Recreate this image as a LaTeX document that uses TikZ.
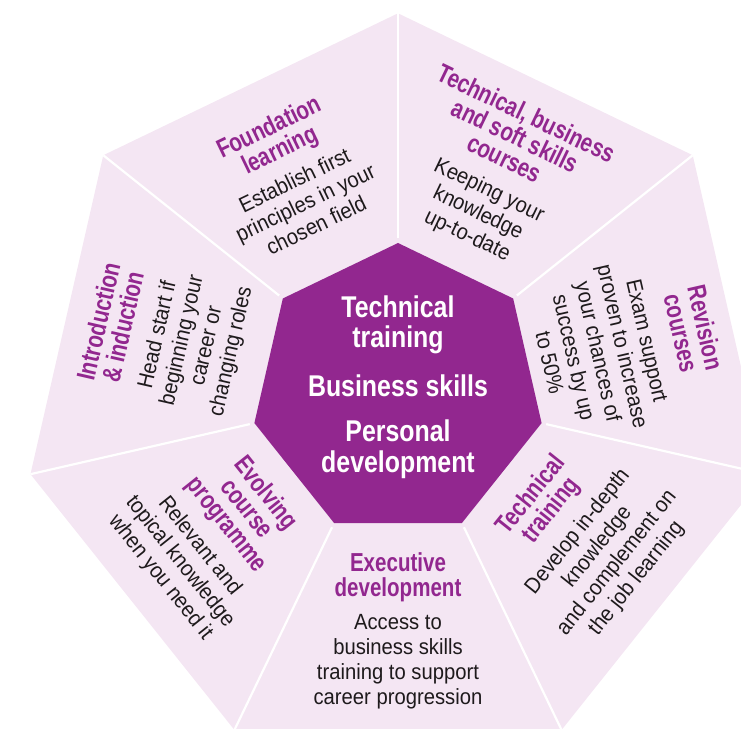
\documentclass[tikz,border=0pt]{standalone}
\usepackage{fontspec}
\setmainfont{Liberation Sans}
\newfontfamily\ctrfont{Liberation Sans}[FakeStretch=0.83]
\newfontfamily\ttlfont{Liberation Sans}[FakeStretch=0.79]
\newfontfamily\dscfont{Liberation Sans}[FakeStretch=0.92]
\definecolor{pinkbg}{RGB}{244,230,243}
\definecolor{plum}{RGB}{146,39,143}
\definecolor{ink}{RGB}{30,26,28}
\newcommand\segtitle[1]{{\ttlfont\bfseries\fontsize{26}{25}\selectfont\color{plum}#1}}
\begin{document}
\begin{tikzpicture}[x=1pt,y=1pt,
  sep/.style={draw=white, line width=2.2pt},
  blk/.style={align=center, inner sep=0pt, text=ink, font=\dscfont\fontsize{22}{25}\selectfont},
  ctr/.style={align=center, inner sep=0pt, text=white, font=\ctrfont\bfseries\fontsize{30}{30.5}\selectfont}]
\useasboundingbox (-398,-337.7) rectangle (343,390.3);
\clip (-398,-337.7) rectangle (343,390.3);
\foreach \k in {0,...,6}{
  \coordinate (o\k) at ({90+\k*360/7}:377);
  \coordinate (i\k) at ({90+\k*360/7}:147.3);
  \coordinate (s\k) at ({90+\k*360/7}:152);
}
\fill[pinkbg] (o0) -- (o1) -- (o2) -- (o3) -- (o4) -- (o5) -- (o6) -- cycle;
\foreach \k in {0,...,6}{ \draw[sep] (s\k) -- (o\k); }
\fill[plum] (i0) -- (i1) -- (i2) -- (i3) -- (i4) -- (i5) -- (i6) -- cycle;
\node[ctr] (center) at (0,3.5) {Technical\\training\\[18pt]Business skills\\[15pt]Personal\\development};
\node[blk, rotate=25.71] (found) at (116.2:240) {\segtitle{Foundation}\\\segtitle{learning}\\[8pt]Establish first\\principles in your\\chosen field};
\node[blk, rotate=-25.71] (techbus) at (65.4:237) {\segtitle{Technical, business}\\\segtitle{and soft skills}\\\segtitle{courses}\\[8pt]Keeping your\\knowledge\\up-to-date};
\node[blk, rotate=-77.14] (revision) at (11.1:235) {\segtitle{Revision}\\\segtitle{courses}\\[8pt]Exam support\\proven to increase\\your chances of\\success by up\\to 50\%};
\node[blk, rotate=51.43] (techtrain) at (-38.2:236) {\segtitle{Technical}\\\segtitle{training}\\[8pt]Develop in-depth\\knowledge\\and complement on\\the job learning};
\node[blk] (exec) at (-90:241) {\segtitle{Executive}\\\segtitle{development}\\[8pt]Access to\\business skills\\training to support\\career progression};
\node[blk, rotate=-51.43] (evolve) at (218.1:234.5) {\segtitle{Evolving}\\\segtitle{course}\\\segtitle{programme}\\[8pt]Relevant and\\topical knowledge\\when you need it};
\node[blk, rotate=77.14] (intro) at (167:239) {\segtitle{Introduction}\\\segtitle{\& induction}\\[8pt]Head start if\\beginning your\\career or\\changing roles};
\end{tikzpicture}
\end{document}
